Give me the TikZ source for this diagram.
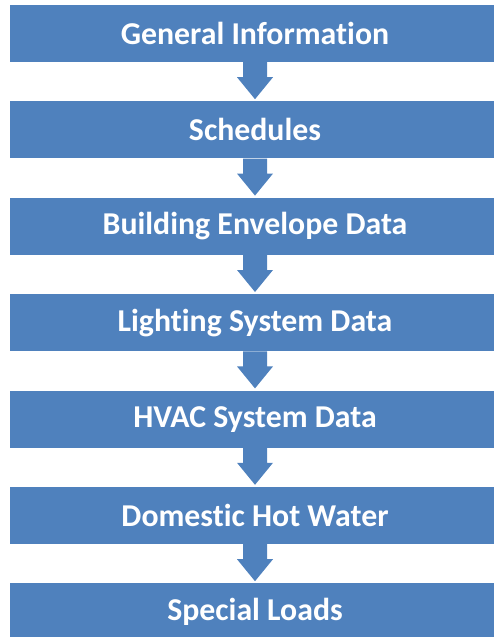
\documentclass[tikz,border=0pt]{standalone}
\usepackage{fontspec}
\setmainfont{Carlito}[RawFeature={-liga}]
\usetikzlibrary{positioning, calc}

\definecolor{stepblue}{HTML}{4F81BD}

\tikzset{
	stepbox/.style={fill=stepblue, text=white, font=\bfseries\fontsize{31.8}{36}\selectfont,
		minimum width=490pt, minimum height=57pt, inner sep=0pt},
	flowarrow/.style={fill=stepblue}
}

\begin{document}
\begin{tikzpicture}
	\useasboundingbox (0,0) rectangle (493pt,-637pt);
	
	\node [stepbox] (gen) at (255pt,-33.5pt) {General Information};
	\node [stepbox, below=39pt of gen] (sched) {Schedules};
	\node [stepbox, below=39pt of sched] (env) {Building Envelope Data};
	\node [stepbox, below=39pt of env] (light) {Lighting System Data};
	\node [stepbox, below=39pt of light] (hvac) {HVAC System Data};
	\node [stepbox, below=39pt of hvac] (dhw) {Domestic Hot Water};
	\node [stepbox, below=39pt of dhw] (loads) {Special Loads};
	
	% block arrows between the steps
	\foreach \a/\b in {gen/sched, sched/env, env/light, light/hvac, hvac/dhw, dhw/loads}
		\fill [flowarrow] ($(\a.south)+(-12pt,0)$) -- ++(0,-15pt) -- ++(-6pt,0)
			-- ($(\b.north)+(0,2pt)$) -- ++(18pt,22pt) -- ++(-6pt,0) -- ++(0,15pt) -- cycle;
\end{tikzpicture}
\end{document}
